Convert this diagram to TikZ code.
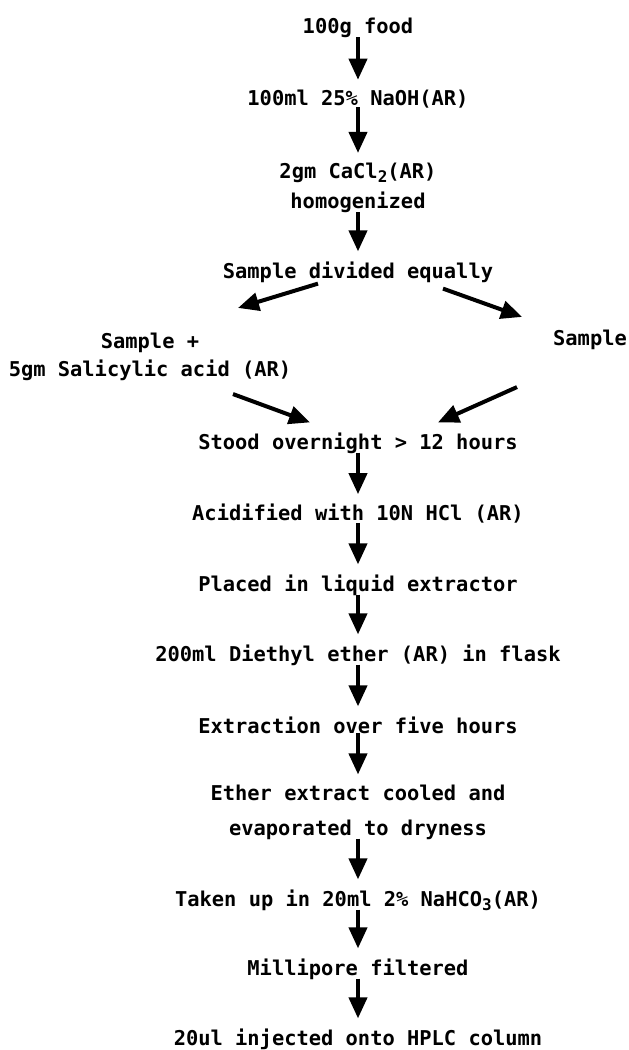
\documentclass[tikz,border=0pt]{standalone}
\usepackage{fontspec}
\setmonofont{DejaVu Sans Mono}
\usetikzlibrary{arrows.meta}
\newcommand{\subdn}[1]{\raisebox{-4pt}{\fontsize{16}{16}\selectfont #1}}

\begin{document}
\begin{tikzpicture}[x=1pt,y=-1pt,
  every node/.style={font=\ttfamily\bfseries\fontsize{20.4}{30}\selectfont, inner sep=1pt},
  flow/.style={line width=4pt,-{Triangle[length=21pt,width=18pt]}},
  down/.style={flow,shorten <=-2pt,shorten >=9pt}]
  \useasboundingbox (0,0) rectangle (629,1050);

  \node (food) at (358,28) {100g food};
  \node (naoh) at (358,99) {100ml 25\% NaOH(AR)};
  \node[align=center] (cacl) at (358,188) {2gm CaCl\subdn{2}(AR)\\homogenized};
  \node (divided) at (358,272) {Sample divided equally};
  \draw[down] (food) -- (naoh);
  \draw[down] (naoh) -- (cacl);
  \draw[down] (cacl) -- (divided);

  % the two halves
  \node[align=center,font=\ttfamily\bfseries\fontsize{20.4}{28}\selectfont] (plus) at (150,357) {Sample +\\5gm Salicylic acid (AR)};
  \node (sample) at (590,340) {Sample};
  \node (stood) at (358,443) {Stood overnight > 12 hours};
  \draw[flow] ([xshift=-40pt]divided.south) -- ([xshift=88pt,yshift=24pt]plus.north);
  \draw[flow] ([xshift=85pt,yshift=-5pt]divided.south) -- ([xshift=-68pt,yshift=12pt]sample.north);
  \draw[flow] ([xshift=83pt,yshift=-12pt]plus.south) -- ([xshift=-48pt,yshift=9pt]stood.north);
  \draw[flow] ([xshift=-73pt,yshift=-36pt]sample.south) -- ([xshift=80pt,yshift=9pt]stood.north);

  \node (acid) at (358,514) {Acidified with 10N HCl (AR)};
  \node (extractor) at (358,585) {Placed in liquid extractor};
  \node (ether) at (358,655) {200ml Diethyl ether (AR) in flask};
  \node (hours) at (358,725) {Extraction over five hours};
  \node[align=center,font=\ttfamily\bfseries\fontsize{20.4}{35}\selectfont] (dry) at (358,812) {Ether extract cooled and\\evaporated to dryness};
  \node (taken) at (358,900) {Taken up in 20ml 2\% NaHCO\subdn{3}(AR)};
  \node (filter) at (358,969) {Millipore filtered};
  \node (hplc) at (358,1039) {20ul injected onto HPLC column};

  \draw[down] (stood) -- (acid);
  \draw[down] (acid) -- (extractor);
  \draw[down] (extractor) -- (ether);
  \draw[down] (ether) -- (hours);
  \draw[down] (hours) -- (dry);
  \draw[down] (dry) -- (taken);
  \draw[down] (taken) -- (filter);
  \draw[down] (filter) -- (hplc);
\end{tikzpicture}
\end{document}
